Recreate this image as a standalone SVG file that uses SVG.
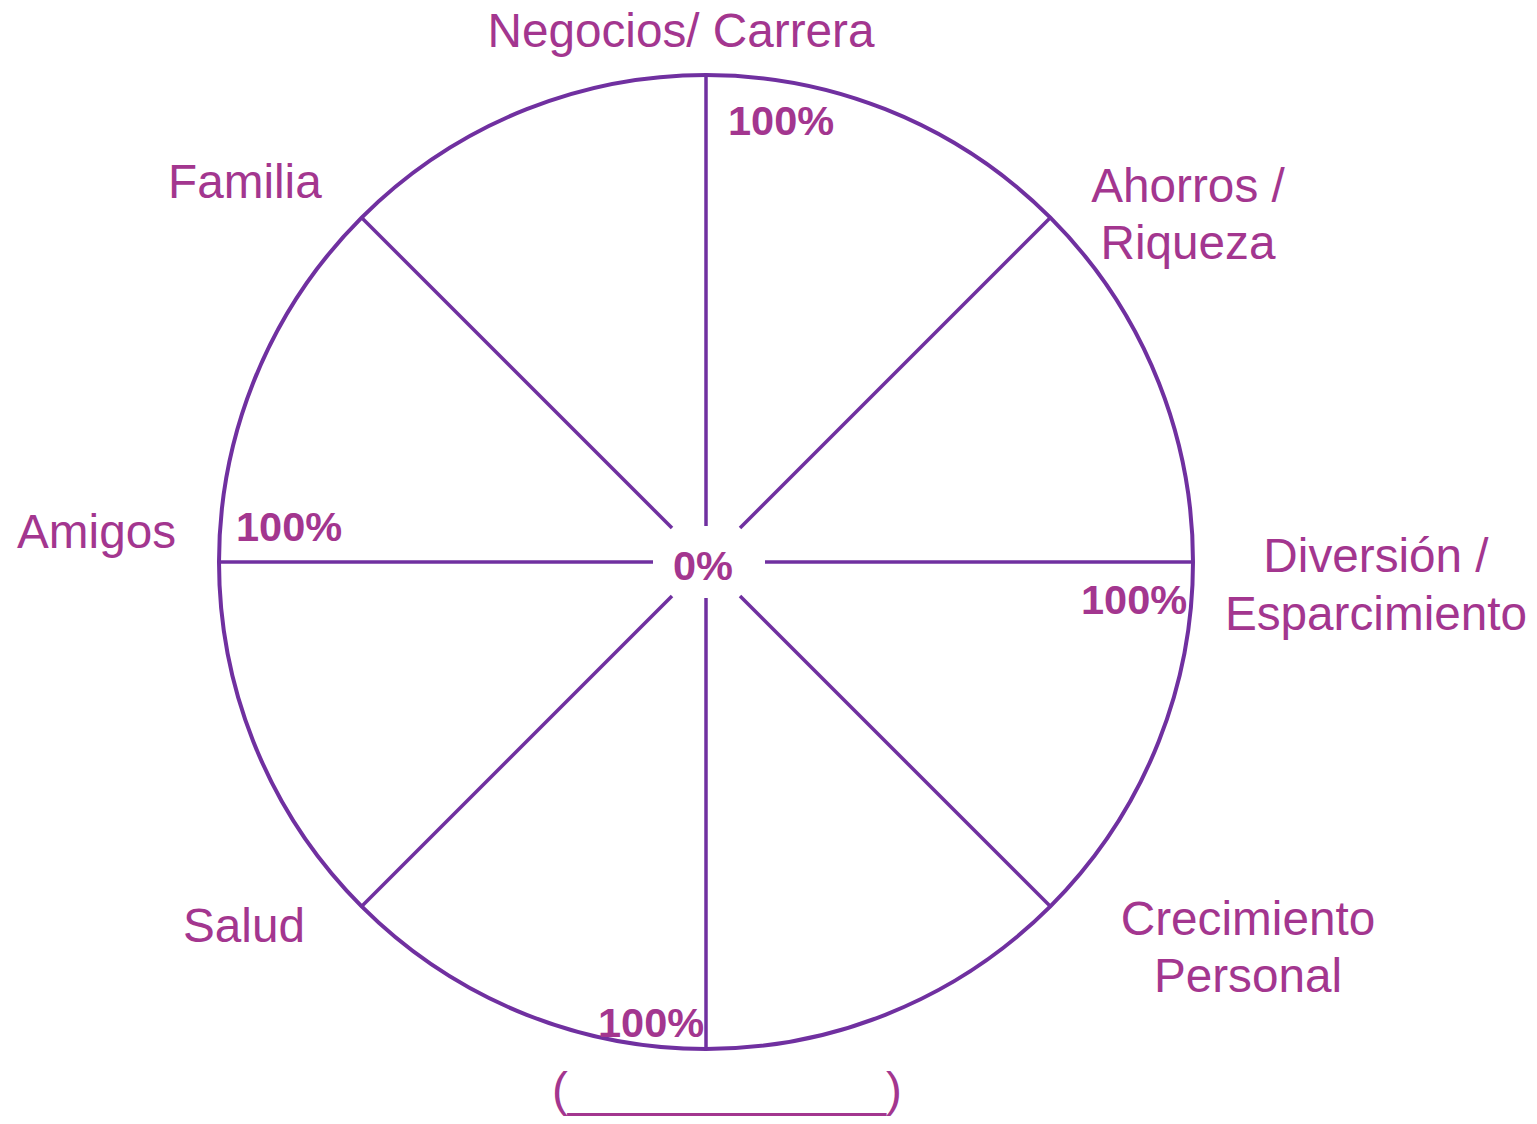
<svg xmlns="http://www.w3.org/2000/svg" width="1537" height="1124" viewBox="0 0 1537 1124">
<style>
.lbl{font-family:"Liberation Sans",Arial,sans-serif;font-size:47.7px;fill:#A3368F}
.pct{font-family:"Liberation Sans",Arial,sans-serif;font-size:41.5px;font-weight:bold;fill:#A3368F}
.sp{stroke:#7030A0;stroke-width:3.5;fill:none}
</style>
<rect width="1537" height="1124" fill="#ffffff"/>
<g id="wheel">
<circle cx="706" cy="562" r="487" fill="none" stroke="#7030A0" stroke-width="4"/>
</g>
<g id="connectors">
<line class="sp" x1="706" y1="75" x2="706" y2="526"/>
<line class="sp" x1="706" y1="598" x2="706" y2="1049"/>
<line class="sp" x1="219" y1="562" x2="653" y2="562"/>
<line class="sp" x1="765" y1="562" x2="1193" y2="562"/>
<line class="sp" x1="362" y1="218" x2="672" y2="528"/>
<line class="sp" x1="1050" y1="218" x2="740" y2="528"/>
<line class="sp" x1="362" y1="906" x2="672" y2="596"/>
<line class="sp" x1="1050" y1="906" x2="740" y2="596"/>
</g>
<g id="center"><text class="pct" x="673" y="580">0%</text></g>
<g id="negocios">
<text class="lbl" x="681" y="47" text-anchor="middle">Negocios/ Carrera</text>
<text class="pct" x="728" y="135">100%</text>
</g>
<g id="ahorros">
<text class="lbl" x="1188" y="202" text-anchor="middle">Ahorros /</text>
<text class="lbl" x="1188" y="259" text-anchor="middle">Riqueza</text>
</g>
<g id="diversion">
<text class="lbl" x="1376" y="572" text-anchor="middle">Diversión /</text>
<text class="lbl" x="1376" y="630" text-anchor="middle">Esparcimiento</text>
<text class="pct" x="1081" y="614">100%</text>
</g>
<g id="crecimiento">
<text class="lbl" x="1248" y="935" text-anchor="middle">Crecimiento</text>
<text class="lbl" x="1248" y="992" text-anchor="middle">Personal</text>
</g>
<g id="salud">
<text class="lbl" x="244" y="942" text-anchor="middle">Salud</text>
<text class="pct" x="598" y="1037">100%</text>
</g>
<g id="amigos">
<text class="lbl" x="17" y="548">Amigos</text>
<text class="pct" x="236" y="541">100%</text>
</g>
<g id="familia">
<text class="lbl" x="168" y="198">Familia</text>
</g>
<g id="blank">
<text class="lbl" x="727" y="1106" text-anchor="middle">(____________)</text>
</g>
</svg>
